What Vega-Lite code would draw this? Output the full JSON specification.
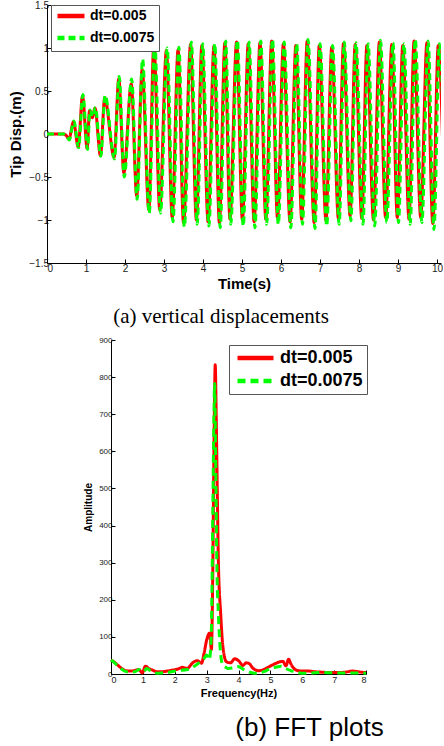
{
  "$schema": "https://vega.github.io/schema/vega-lite/v6.json",
  "padding": {"left": 8, "top": 0, "right": 0, "bottom": 0},
  "background": "white",
  "spacing": 9,
  "resolve": {"scale": {"color": "independent", "strokeDash": "independent"}, "legend": {"color": "independent", "strokeDash": "independent"}},
  "config": {
    "view": {"stroke": null},
    "axis": {"grid": false, "domainColor": "#000", "tickColor": "#000", "tickSize": -4, "labelFont": "Liberation Sans", "labelColor": "#222", "titleFont": "Liberation Sans", "titleFontWeight": "bold", "titleColor": "#000"}
  },
  "datasets": {
    "disp": [
      {"s":"dt=0.005","t":0,"y":0},{"s":"dt=0.005","t":0.2,"y":0},{"s":"dt=0.005","t":0.42,"y":0},{"s":"dt=0.005","t":0.5,"y":-0.02},{"s":"dt=0.005","t":0.56,"y":-0.06},{"s":"dt=0.005","t":0.68,"y":0.14},{"s":"dt=0.005","t":0.8,"y":-0.15},{"s":"dt=0.005","t":0.91,"y":0.44},{"s":"dt=0.005","t":1.03,"y":-0.17},{"s":"dt=0.005","t":1.09,"y":0.27},{"s":"dt=0.005","t":1.16,"y":0.19},{"s":"dt=0.005","t":1.23,"y":0.3},{"s":"dt=0.005","t":1.37,"y":-0.25},{"s":"dt=0.005","t":1.48,"y":0.42},{"s":"dt=0.005","t":1.72,"y":-0.27},{"s":"dt=0.005","t":1.84,"y":0.64},{"s":"dt=0.005","t":1.97,"y":-0.45},{"s":"dt=0.005","t":2.16,"y":0.58},{"s":"dt=0.005","t":2.3,"y":-0.72},{"s":"dt=0.005","t":2.44,"y":0.75},{"s":"dt=0.005","t":2.61,"y":-0.88},{"s":"dt=0.005","t":2.74,"y":1.05},{"s":"dt=0.005","t":2.89,"y":-0.88},{"s":"dt=0.005","t":3.06,"y":0.97},{"s":"dt=0.005","t":3.21,"y":-0.97},{"s":"dt=0.005","t":3.36,"y":0.98},{"s":"dt=0.005","t":3.5,"y":-1.03},{"s":"dt=0.005","t":3.68,"y":1.04},{"s":"dt=0.005","t":3.83,"y":-1.0},{"s":"dt=0.005","t":3.97,"y":1.03},{"s":"dt=0.005","t":4.13,"y":-1.02},{"s":"dt=0.005","t":4.28,"y":1.02},{"s":"dt=0.005","t":4.42,"y":-1.03},{"s":"dt=0.005","t":4.56,"y":1.06},{"s":"dt=0.005","t":4.69,"y":-0.99},{"s":"dt=0.005","t":4.86,"y":1.07},{"s":"dt=0.005","t":5.01,"y":-1.0},{"s":"dt=0.005","t":5.16,"y":1.05},{"s":"dt=0.005","t":5.31,"y":-1.02},{"s":"dt=0.005","t":5.46,"y":1.06},{"s":"dt=0.005","t":5.61,"y":-0.99},{"s":"dt=0.005","t":5.76,"y":1.08},{"s":"dt=0.005","t":5.91,"y":-0.98},{"s":"dt=0.005","t":6.06,"y":1.05},{"s":"dt=0.005","t":6.23,"y":-1.02},{"s":"dt=0.005","t":6.38,"y":1.03},{"s":"dt=0.005","t":6.53,"y":-0.99},{"s":"dt=0.005","t":6.67,"y":1.08},{"s":"dt=0.005","t":6.85,"y":-1.03},{"s":"dt=0.005","t":6.98,"y":1.03},{"s":"dt=0.005","t":7.15,"y":-1.0},{"s":"dt=0.005","t":7.3,"y":1.01},{"s":"dt=0.005","t":7.47,"y":-0.98},{"s":"dt=0.005","t":7.6,"y":1.05},{"s":"dt=0.005","t":7.77,"y":-0.95},{"s":"dt=0.005","t":7.9,"y":1.04},{"s":"dt=0.005","t":8.07,"y":-0.98},{"s":"dt=0.005","t":8.2,"y":1.03},{"s":"dt=0.005","t":8.37,"y":-1.0},{"s":"dt=0.005","t":8.52,"y":1.07},{"s":"dt=0.005","t":8.68,"y":-0.97},{"s":"dt=0.005","t":8.84,"y":1.04},{"s":"dt=0.005","t":8.98,"y":-0.97},{"s":"dt=0.005","t":9.12,"y":1.03},{"s":"dt=0.005","t":9.28,"y":-0.99},{"s":"dt=0.005","t":9.41,"y":1.08},{"s":"dt=0.005","t":9.58,"y":-0.97},{"s":"dt=0.005","t":9.74,"y":1.06},{"s":"dt=0.005","t":9.89,"y":-1.04},{"s":"dt=0.005","t":10.03,"y":1.03},{"s":"dt=0.005","t":10.19,"y":-1.0},
      {"s":"dt=0.0075","t":0,"y":0},{"s":"dt=0.0075","t":0.2,"y":0},{"s":"dt=0.0075","t":0.42,"y":0},{"s":"dt=0.0075","t":0.5,"y":-0.02},{"s":"dt=0.0075","t":0.57,"y":-0.07},{"s":"dt=0.0075","t":0.69,"y":0.15},{"s":"dt=0.0075","t":0.81,"y":-0.16},{"s":"dt=0.0075","t":0.92,"y":0.46},{"s":"dt=0.0075","t":1.04,"y":-0.18},{"s":"dt=0.0075","t":1.1,"y":0.28},{"s":"dt=0.0075","t":1.17,"y":0.2},{"s":"dt=0.0075","t":1.24,"y":0.31},{"s":"dt=0.0075","t":1.38,"y":-0.26},{"s":"dt=0.0075","t":1.49,"y":0.45},{"s":"dt=0.0075","t":1.73,"y":-0.29},{"s":"dt=0.0075","t":1.85,"y":0.67},{"s":"dt=0.0075","t":1.98,"y":-0.5},{"s":"dt=0.0075","t":2.17,"y":0.64},{"s":"dt=0.0075","t":2.31,"y":-0.76},{"s":"dt=0.0075","t":2.45,"y":0.87},{"s":"dt=0.0075","t":2.62,"y":-0.92},{"s":"dt=0.0075","t":2.76,"y":1.1},{"s":"dt=0.0075","t":2.91,"y":-0.92},{"s":"dt=0.0075","t":3.08,"y":1.0},{"s":"dt=0.0075","t":3.23,"y":-1.02},{"s":"dt=0.0075","t":3.38,"y":1.01},{"s":"dt=0.0075","t":3.52,"y":-1.08},{"s":"dt=0.0075","t":3.7,"y":1.07},{"s":"dt=0.0075","t":3.85,"y":-1.05},{"s":"dt=0.0075","t":3.99,"y":1.05},{"s":"dt=0.0075","t":4.15,"y":-1.07},{"s":"dt=0.0075","t":4.3,"y":1.05},{"s":"dt=0.0075","t":4.44,"y":-1.09},{"s":"dt=0.0075","t":4.58,"y":1.08},{"s":"dt=0.0075","t":4.71,"y":-1.05},{"s":"dt=0.0075","t":4.88,"y":1.09},{"s":"dt=0.0075","t":5.03,"y":-1.07},{"s":"dt=0.0075","t":5.18,"y":1.07},{"s":"dt=0.0075","t":5.33,"y":-1.09},{"s":"dt=0.0075","t":5.48,"y":1.08},{"s":"dt=0.0075","t":5.63,"y":-1.05},{"s":"dt=0.0075","t":5.78,"y":1.1},{"s":"dt=0.0075","t":5.93,"y":-1.05},{"s":"dt=0.0075","t":6.08,"y":1.07},{"s":"dt=0.0075","t":6.25,"y":-1.09},{"s":"dt=0.0075","t":6.4,"y":1.05},{"s":"dt=0.0075","t":6.55,"y":-1.05},{"s":"dt=0.0075","t":6.69,"y":1.1},{"s":"dt=0.0075","t":6.87,"y":-1.1},{"s":"dt=0.0075","t":7.0,"y":1.05},{"s":"dt=0.0075","t":7.17,"y":-1.07},{"s":"dt=0.0075","t":7.32,"y":1.03},{"s":"dt=0.0075","t":7.49,"y":-1.05},{"s":"dt=0.0075","t":7.62,"y":1.07},{"s":"dt=0.0075","t":7.79,"y":-1.01},{"s":"dt=0.0075","t":7.92,"y":1.06},{"s":"dt=0.0075","t":8.1,"y":-1.05},{"s":"dt=0.0075","t":8.23,"y":1.05},{"s":"dt=0.0075","t":8.4,"y":-1.07},{"s":"dt=0.0075","t":8.55,"y":1.09},{"s":"dt=0.0075","t":8.71,"y":-1.03},{"s":"dt=0.0075","t":8.87,"y":1.06},{"s":"dt=0.0075","t":9.01,"y":-1.03},{"s":"dt=0.0075","t":9.15,"y":1.05},{"s":"dt=0.0075","t":9.31,"y":-1.05},{"s":"dt=0.0075","t":9.44,"y":1.1},{"s":"dt=0.0075","t":9.61,"y":-1.03},{"s":"dt=0.0075","t":9.77,"y":1.08},{"s":"dt=0.0075","t":9.92,"y":-1.11},{"s":"dt=0.0075","t":10.06,"y":1.05},{"s":"dt=0.0075","t":10.22,"y":-1.05}
    ],
    "fft": [
      {"s":"dt=0.005","f":0,"a":38},{"s":"dt=0.005","f":0.1,"a":32},{"s":"dt=0.005","f":0.21,"a":24},{"s":"dt=0.005","f":0.35,"a":14},{"s":"dt=0.005","f":0.46,"a":9},{"s":"dt=0.005","f":0.6,"a":8},{"s":"dt=0.005","f":0.72,"a":9},{"s":"dt=0.005","f":0.87,"a":12},{"s":"dt=0.005","f":0.98,"a":3},{"s":"dt=0.005","f":1.08,"a":21},{"s":"dt=0.005","f":1.18,"a":15},{"s":"dt=0.005","f":1.29,"a":11},{"s":"dt=0.005","f":1.45,"a":6},{"s":"dt=0.005","f":1.6,"a":6},{"s":"dt=0.005","f":1.77,"a":8},{"s":"dt=0.005","f":1.9,"a":10},{"s":"dt=0.005","f":2.03,"a":12},{"s":"dt=0.005","f":2.15,"a":15},{"s":"dt=0.005","f":2.24,"a":18},{"s":"dt=0.005","f":2.32,"a":16},{"s":"dt=0.005","f":2.4,"a":15},{"s":"dt=0.005","f":2.48,"a":22},{"s":"dt=0.005","f":2.55,"a":29},{"s":"dt=0.005","f":2.63,"a":34},{"s":"dt=0.005","f":2.71,"a":36},{"s":"dt=0.005","f":2.78,"a":32},{"s":"dt=0.005","f":2.84,"a":29},{"s":"dt=0.005","f":2.92,"a":56},{"s":"dt=0.005","f":3.0,"a":91},{"s":"dt=0.005","f":3.05,"a":105},{"s":"dt=0.005","f":3.09,"a":110},{"s":"dt=0.005","f":3.12,"a":90},{"s":"dt=0.005","f":3.15,"a":65},{"s":"dt=0.005","f":3.19,"a":250},{"s":"dt=0.005","f":3.23,"a":600},{"s":"dt=0.005","f":3.27,"a":833},{"s":"dt=0.005","f":3.3,"a":700},{"s":"dt=0.005","f":3.33,"a":520},{"s":"dt=0.005","f":3.37,"a":298},{"s":"dt=0.005","f":3.44,"a":164},{"s":"dt=0.005","f":3.51,"a":74},{"s":"dt=0.005","f":3.62,"a":33},{"s":"dt=0.005","f":3.75,"a":30},{"s":"dt=0.005","f":3.88,"a":41},{"s":"dt=0.005","f":4.0,"a":36},{"s":"dt=0.005","f":4.14,"a":23},{"s":"dt=0.005","f":4.24,"a":30},{"s":"dt=0.005","f":4.32,"a":29},{"s":"dt=0.005","f":4.45,"a":16},{"s":"dt=0.005","f":4.56,"a":10},{"s":"dt=0.005","f":4.64,"a":9},{"s":"dt=0.005","f":4.76,"a":11},{"s":"dt=0.005","f":4.92,"a":18},{"s":"dt=0.005","f":5.13,"a":27},{"s":"dt=0.005","f":5.3,"a":33},{"s":"dt=0.005","f":5.39,"a":34},{"s":"dt=0.005","f":5.49,"a":22},{"s":"dt=0.005","f":5.57,"a":40},{"s":"dt=0.005","f":5.64,"a":28},{"s":"dt=0.005","f":5.71,"a":18},{"s":"dt=0.005","f":5.87,"a":9},{"s":"dt=0.005","f":6.0,"a":8},{"s":"dt=0.005","f":6.18,"a":8},{"s":"dt=0.005","f":6.4,"a":6},{"s":"dt=0.005","f":6.6,"a":5},{"s":"dt=0.005","f":6.85,"a":4},{"s":"dt=0.005","f":7.1,"a":4},{"s":"dt=0.005","f":7.35,"a":5},{"s":"dt=0.005","f":7.58,"a":8},{"s":"dt=0.005","f":7.68,"a":7},{"s":"dt=0.005","f":7.85,"a":5},{"s":"dt=0.005","f":8.0,"a":4},
      {"s":"dt=0.0075","f":0,"a":38},{"s":"dt=0.0075","f":0.1,"a":31},{"s":"dt=0.0075","f":0.21,"a":22},{"s":"dt=0.0075","f":0.32,"a":14},{"s":"dt=0.0075","f":0.42,"a":8},{"s":"dt=0.0075","f":0.55,"a":5},{"s":"dt=0.0075","f":0.73,"a":6},{"s":"dt=0.0075","f":0.89,"a":12},{"s":"dt=0.0075","f":1.02,"a":6},{"s":"dt=0.0075","f":1.12,"a":15},{"s":"dt=0.0075","f":1.25,"a":8},{"s":"dt=0.0075","f":1.45,"a":2},{"s":"dt=0.0075","f":1.6,"a":3},{"s":"dt=0.0075","f":1.77,"a":4},{"s":"dt=0.0075","f":2.08,"a":9},{"s":"dt=0.0075","f":2.4,"a":12},{"s":"dt=0.0075","f":2.6,"a":20},{"s":"dt=0.0075","f":2.76,"a":30},{"s":"dt=0.0075","f":2.92,"a":42},{"s":"dt=0.0075","f":3.0,"a":51},{"s":"dt=0.0075","f":3.05,"a":45},{"s":"dt=0.0075","f":3.08,"a":38},{"s":"dt=0.0075","f":3.12,"a":60},{"s":"dt=0.0075","f":3.15,"a":120},{"s":"dt=0.0075","f":3.19,"a":400},{"s":"dt=0.0075","f":3.23,"a":700},{"s":"dt=0.0075","f":3.25,"a":783},{"s":"dt=0.0075","f":3.28,"a":600},{"s":"dt=0.0075","f":3.32,"a":300},{"s":"dt=0.0075","f":3.37,"a":160},{"s":"dt=0.0075","f":3.42,"a":75},{"s":"dt=0.0075","f":3.5,"a":25},{"s":"dt=0.0075","f":3.6,"a":18},{"s":"dt=0.0075","f":3.67,"a":15},{"s":"dt=0.0075","f":3.8,"a":16},{"s":"dt=0.0075","f":3.98,"a":20},{"s":"dt=0.0075","f":4.19,"a":11},{"s":"dt=0.0075","f":4.35,"a":5},{"s":"dt=0.0075","f":4.5,"a":2},{"s":"dt=0.0075","f":4.65,"a":3},{"s":"dt=0.0075","f":4.82,"a":7},{"s":"dt=0.0075","f":5.0,"a":15},{"s":"dt=0.0075","f":5.2,"a":19},{"s":"dt=0.0075","f":5.33,"a":21},{"s":"dt=0.0075","f":5.48,"a":15},{"s":"dt=0.0075","f":5.64,"a":9},{"s":"dt=0.0075","f":5.85,"a":4},{"s":"dt=0.0075","f":6.05,"a":2},{"s":"dt=0.0075","f":6.3,"a":3},{"s":"dt=0.0075","f":6.6,"a":4},{"s":"dt=0.0075","f":7.0,"a":3},{"s":"dt=0.0075","f":7.4,"a":3},{"s":"dt=0.0075","f":7.7,"a":3},{"s":"dt=0.0075","f":8.0,"a":2}
    ]
  },
  "vconcat": [
    {
      "width": 394,
      "height": 258,
      "data": {"name": "disp"},
      "title": {"text": "(a) vertical displacements", "orient": "bottom", "anchor": "middle", "font": "Liberation Serif", "fontSize": 21, "fontWeight": "normal", "color": "#000", "dx": -23, "offset": 15},
      "mark": {"type": "line", "strokeWidth": 3, "interpolate": "monotone", "clip": true},
      "encoding": {
        "x": {"field": "t", "type": "quantitative", "scale": {"domain": [0, 10.1], "nice": false},
          "axis": {"values": [0,1,2,3,4,5,6,7,8,9,10], "title": "Time(s)", "labelFontSize": 10, "labelPadding": 4, "titleFontSize": 15, "titlePadding": 3}},
        "y": {"field": "y", "type": "quantitative", "scale": {"domain": [-1.5, 1.5], "nice": false},
          "axis": {"values": [-1.5,-1,-0.5,0,0.5,1,1.5], "format": "~g", "title": "Tip Disp.(m)", "labelFontSize": 10, "labelPadding": 2.5, "titleFontSize": 15, "titlePadding": 5}},
        "color": {"field": "s", "type": "nominal", "scale": {"domain": ["dt=0.005","dt=0.0075"], "range": ["#ff0000","#00ff00"]},
          "legend": {"orient": "none", "legendX": 4, "legendY": 0, "title": null, "labelFont": "Liberation Sans", "labelFontSize": 14, "labelFontWeight": "bold", "labelColor": "#000", "symbolType": "M-1,0H5", "symbolSize": 81, "symbolStrokeWidth": 4.5, "strokeColor": "#555", "fillColor": "#fff", "padding": 4, "rowPadding": 4, "labelOffset": 21}},
        "strokeDash": {"field": "s", "type": "nominal", "scale": {"domain": ["dt=0.005","dt=0.0075"], "range": [[1,0],[7,4]]},
          "legend": {"orient": "none", "legendX": 4, "legendY": 0, "title": null, "labelFont": "Liberation Sans", "labelFontSize": 14, "labelFontWeight": "bold", "labelColor": "#000", "symbolType": "M-1,0H5", "symbolSize": 81, "symbolStrokeWidth": 4.5, "strokeColor": "#555", "fillColor": "#fff", "padding": 4, "rowPadding": 4, "labelOffset": 21}}
      }
    },
    {
      "width": 319,
      "height": 334,
      "data": {"name": "fft"},
      "title": {"text": "(b) FFT plots", "orient": "bottom", "anchor": "middle", "font": "Liberation Sans", "fontSize": 26, "fontWeight": "normal", "color": "#000", "dx": 103, "offset": 17},
      "mark": {"type": "line", "strokeWidth": 3, "interpolate": "monotone"},
      "encoding": {
        "x": {"field": "f", "type": "quantitative", "scale": {"domain": [0, 8], "range": [64, 319], "nice": false},
          "axis": {"values": [0,1,2,3,4,5,6,7,8], "title": "Frequency(Hz)", "labelFontSize": 9, "labelPadding": 5, "titleFontSize": 11, "titlePadding": 3}},
        "y": {"field": "a", "type": "quantitative", "scale": {"domain": [0, 900], "nice": false},
          "axis": {"values": [0,100,200,300,400,500,600,700,800,900], "offset": -64, "title": "Amplitude", "labelFontSize": 8, "labelPadding": 3, "titleFontSize": 10, "titlePadding": 5}},
        "color": {"field": "s", "type": "nominal", "scale": {"domain": ["dt=0.005","dt=0.0075"], "range": ["#ff0000","#00ff00"]},
          "legend": {"orient": "none", "legendX": 182, "legendY": 5, "title": null, "labelFont": "Liberation Sans", "labelFontSize": 18, "labelFontWeight": "bold", "labelColor": "#000", "symbolType": "M-1,0H7", "symbolSize": 81, "symbolStrokeWidth": 4.5, "strokeColor": "#555", "fillColor": "#fff", "padding": 4, "rowPadding": 5, "labelOffset": 29}},
        "strokeDash": {"field": "s", "type": "nominal", "scale": {"domain": ["dt=0.005","dt=0.0075"], "range": [[1,0],[8,5]]},
          "legend": {"orient": "none", "legendX": 182, "legendY": 5, "title": null, "labelFont": "Liberation Sans", "labelFontSize": 18, "labelFontWeight": "bold", "labelColor": "#000", "symbolType": "M-1,0H7", "symbolSize": 81, "symbolStrokeWidth": 4.5, "strokeColor": "#555", "fillColor": "#fff", "padding": 4, "rowPadding": 5, "labelOffset": 29}}
      }
    }
  ]
}
